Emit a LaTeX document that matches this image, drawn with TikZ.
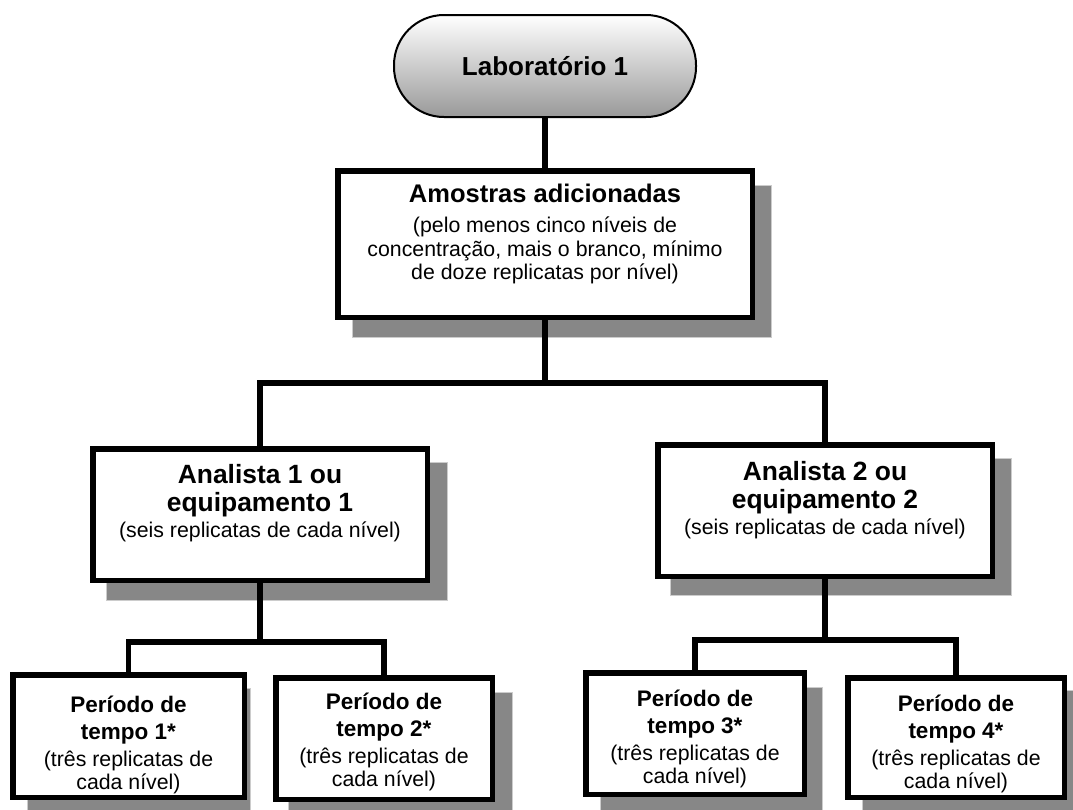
\documentclass[tikz,border=0pt]{standalone}
\usepackage{fontspec}
\setmainfont{Liberation Sans}
\usetikzlibrary{calc}
\begin{document}
\begin{tikzpicture}[x=1pt,y=-1pt,
  box/.style={draw=black, line width=5.5pt, fill=white, inner sep=0pt, rectangle},
  shadowbox/.style={fill=black!47, draw=black!20, line width=0.8pt},
  link/.style={line width=5.5pt, draw=black},
  ln/.style={anchor=base, inner sep=0pt, font=\fontsize{21.3}{24}\selectfont},
  amottl/.style={anchor=base, inner sep=0pt, font=\fontsize{25.5}{29}\selectfont\bfseries},
  anattl/.style={anchor=base, inner sep=0pt, font=\fontsize{26.4}{29}\selectfont\bfseries},
  perttl/.style={anchor=base, inner sep=0pt, font=\fontsize{22.5}{28}\selectfont\bfseries},
]
\useasboundingbox (0,0) rectangle (1073,809);

% shadows
\fill[shadowbox] (352,185) rectangle (771,337);
\fill[shadowbox] (106,462) rectangle (447,600);
\fill[shadowbox] (670,458) rectangle (1011,595);
\fill[shadowbox] (27,688) rectangle (250,815);
\fill[shadowbox] (288,692) rectangle (512,815);
\fill[shadowbox] (600,687) rectangle (822,815);
\fill[shadowbox] (862,690) rectangle (1080,815);

% top pill
\node[draw=black, line width=2pt, rounded corners=50pt, top color=white, bottom color=black!40,
      minimum width=302pt, minimum height=102pt, inner sep=0pt,
      font=\fontsize{26}{30}\selectfont\bfseries] (lab) at (545,66) {Laborat\'orio 1};

% boxes
\node[box, minimum width=414.5pt, minimum height=146.5pt] (amo) at (545,244) {};
\node[box, minimum width=334.5pt, minimum height=131.5pt] (an1) at (260,514.5) {};
\node[box, minimum width=334.5pt, minimum height=131.5pt] (an2) at (825,510.5) {};
\node[box, minimum width=231.5pt, minimum height=122.5pt] (p1) at (128.5,736) {};
\node[box, minimum width=216.5pt, minimum height=121.5pt] (p2) at (384,738.5) {};
\node[box, minimum width=218.5pt, minimum height=121.5pt] (p3) at (695,733.5) {};
\node[box, minimum width=216.5pt, minimum height=119.5pt] (p4) at (956,737.5) {};

% texts: Amostras
\node[amottl] (amoA) at (545,202) {Amostras adicionadas};
\node[ln] (amoB) at (545,232) {(pelo menos cinco níveis de};
\node[ln] (amoC) at (545,256) {concentração, mais o branco, mínimo};
\node[ln] (amoD) at (545,279) {de doze replicatas por nível)};
% Analista 1
\node[anattl] (an1A) at (260,483) {Analista 1 ou};
\node[anattl] (an1B) at (260,511) {equipamento 1};
\node[ln] (an1C) at (260,537) {(seis replicatas de cada nível)};
% Analista 2
\node[anattl] (an2A) at (825,480) {Analista 2 ou};
\node[anattl] (an2B) at (825,508) {equipamento 2};
\node[ln] (an2C) at (825,534) {(seis replicatas de cada nível)};
% Periodos
\node[perttl] (p1A) at (128.5,712) {Período de};
\node[perttl] (p1B) at (128.5,739) {tempo 1*};
\node[ln] (p1C) at (128.5,766) {(três replicatas de};
\node[ln] (p1D) at (128.5,789) {cada nível)};
\node[perttl] (p2A) at (384,709) {Período de};
\node[perttl] (p2B) at (384,736) {tempo 2*};
\node[ln] (p2C) at (384,763) {(três replicatas de};
\node[ln] (p2D) at (384,786) {cada nível)};
\node[perttl] (p3A) at (695,706) {Período de};
\node[perttl] (p3B) at (695,733) {tempo 3*};
\node[ln] (p3C) at (695,760) {(três replicatas de};
\node[ln] (p3D) at (695,783) {cada nível)};
\node[perttl] (p4A) at (956,711) {Período de};
\node[perttl] (p4B) at (956,738) {tempo 4*};
\node[ln] (p4C) at (956,765) {(três replicatas de};
\node[ln] (p4D) at (956,788) {cada nível)};

% connectors
\coordinate (j1) at (545,383);
\coordinate (j2) at (260,642);
\coordinate (j3) at (825,640);
\draw[link] (lab.south) -- (amo.north);
\draw[link] (amo.south) -- (j1);
\draw[link] (an1.north) |- (j1) -| (an2.north);
\draw[link] (an1.south) -- (j2);
\draw[link] (p1.north) |- (j2) -| (p2.north);
\draw[link] (an2.south) -- (j3);
\draw[link] (p3.north) |- (j3) -| (p4.north);
\end{tikzpicture}
\end{document}
